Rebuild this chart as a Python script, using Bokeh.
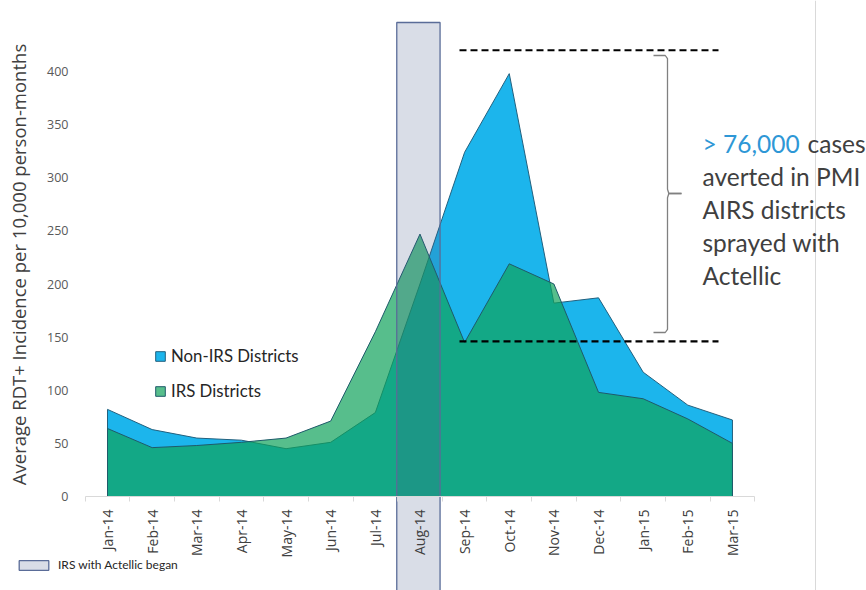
from math import pi
from bokeh.plotting import figure
from bokeh.models import (Range1d, LinearAxis, FixedTicker, Label, Legend,
                          LegendItem, Span)
from bokeh.embed import file_html
from bokeh.resources import INLINE

# ---------------- data ----------------
months = ["Jan-14", "Feb-14", "Mar-14", "Apr-14", "May-14", "Jun-14", "Jul-14",
          "Aug-14", "Sep-14", "Oct-14", "Nov-14", "Dec-14", "Jan-15", "Feb-15", "Mar-15"]
non_irs = [82, 63, 55, 53, 45, 51, 79, 200, 324, 398, 182, 187, 117, 86, 72]
irs = [64, 46, 48, 51, 55, 71, 155, 247, 145, 219, 200, 98, 92, 73, 50]
y_ticks = [0, 50, 100, 150, 200, 250, 300, 350, 400]
spray_month = "Aug-14"
averted_top = 420
averted_bottom = 146
text_lines = ["averted in PMI", "AIRS districts", "sprayed with", "Actellic"]

# ---------------- scales (pixel mapping) ----------------
px0, dx = 107.0, 44.64          # x pixel of first month, pixels per month
py0, dy = 496.0, 1.0625         # y pixel of zero, pixels per unit
W, H = 866, 590

def xd(px):
    return (px - px0) / dx

def yd(py):
    return (py0 - py) / dy

p = figure(width=W, height=H, output_backend="svg", toolbar_location=None,
           x_range=Range1d(xd(0), xd(W)), y_range=Range1d(yd(H), yd(0)),
           x_axis_location=None, y_axis_location=None, min_border=0,
           background_fill_color="white", border_fill_color="white")
p.outline_line_color = None
p.xgrid.visible = False
p.ygrid.visible = False

n = len(months)
idx = list(range(n))
poly_x = idx + [n - 1, 0]

blue = p.patch(poly_x, non_irs + [0, 0], fill_color="#1CB5EC", fill_alpha=1.0,
               line_color="#22607E", line_width=1)
green = p.patch(poly_x, irs + [0, 0], fill_color="#10A25B", fill_alpha=0.7,
                line_color="#1F5A6A", line_width=1)

# spray band
si = months.index(spray_month)
band = p.quad(left=[si - 0.52], right=[si + 0.45], bottom=[yd(H + 20)], top=[yd(22)],
              fill_color="#3F5589", fill_alpha=0.2, line_color="#5A6C98", line_width=1.3)

# slide edge line
p.add_layout(Span(location=xd(815), dimension="height", line_color="#D9D9D9", line_width=1))

# dashed level lines
p.line([xd(459), xd(718)], [averted_top, averted_top], line_color="black",
       line_width=2.2, line_dash="7 4")
p.line([xd(459), xd(718)], [averted_bottom, averted_bottom], line_color="black",
       line_width=2.2, line_dash="7 4")

# brace
bx, hx, tx = xd(667), xd(653), xd(681)
btop, bbot, bmid = yd(55), yd(332), yd(193)
p.line([hx, bx - 0.05, bx, bx, bx + 0.03, tx], [btop, btop, btop - 3, bmid + 4, bmid, bmid],
       line_color="#808080", line_width=1.3)
p.line([tx, bx + 0.03, bx, bx, bx - 0.05, hx], [bmid, bmid, bmid - 4, bbot + 3, bbot, bbot],
       line_color="#808080", line_width=1.3)

# axes
xaxis = LinearAxis(ticker=FixedTicker(ticks=idx, minor_ticks=[i - 0.5 for i in range(n + 1)]),
                   fixed_location=0, bounds=(-0.5, n - 0.5))
xaxis.major_label_overrides = {i: m for i, m in enumerate(months)}
xaxis.major_label_orientation = pi / 2
xaxis.axis_line_color = "#D9D9D9"
xaxis.major_tick_line_color = None
xaxis.minor_tick_line_color = "#D9D9D9"
xaxis.minor_tick_in = 0
xaxis.minor_tick_out = 5
xaxis.major_label_standoff = 7
xaxis.major_label_text_font = "Open Sans"
xaxis.major_label_text_font_size = "14px"
xaxis.major_label_text_color = "#404040"
p.add_layout(xaxis, "below")

yaxis = LinearAxis(ticker=FixedTicker(ticks=y_ticks), fixed_location=xd(80))
yaxis.axis_line_color = None
yaxis.major_tick_line_color = None
yaxis.minor_tick_line_color = None
yaxis.major_label_standoff = 6
yaxis.major_label_text_font = "Open Sans"
yaxis.major_label_text_font_size = "12.5px"
yaxis.major_label_text_color = "#595959"
p.add_layout(yaxis, "left")

p.add_layout(Label(x=18, x_units="screen", y=yd(264), text="Average RDT+ Incidence per 10,000 person-months",
                   angle=pi / 2, text_align="center", text_baseline="middle",
                   text_font="Open Sans", text_font_size="18.5px", text_color="#404040"))

# annotation text
fs = "24.5px"
p.add_layout(Label(x=xd(702), y=yd(143), text="> 76,000", text_font="Lato", text_font_size=fs,
                   text_color="#2E97D6", text_baseline="middle"))
p.add_layout(Label(x=xd(807), y=yd(143), text="cases", text_font="Lato", text_font_size=fs,
                   text_color="#404040", text_baseline="middle"))
for k, t in enumerate(text_lines):
    p.add_layout(Label(x=xd(702), y=yd(176 + 33 * k), text=t, text_font="Lato", text_font_size=fs,
                       text_color="#404040", text_baseline="middle"))

# legends
leg = Legend(items=[LegendItem(label="Non-IRS Districts", renderers=[blue]),
                    LegendItem(label="IRS Districts", renderers=[green])],
             location=(154, H - 347 - 54), orientation="vertical",
             glyph_width=12, glyph_height=12, label_height=20, spacing=14,
             padding=0, margin=0, border_line_color=None, background_fill_alpha=0,
             label_text_font="Lato", label_text_font_size="16.8px", label_text_color="#262626",
             label_standoff=5)
p.add_layout(leg)

leg2 = Legend(items=[LegendItem(label="IRS with Actellic began", renderers=[band])],
              location=(15, H - 572), glyph_width=37, glyph_height=12, label_height=14,
              padding=0, margin=0, border_line_color=None, background_fill_alpha=0,
              label_text_font="Lato", label_text_font_size="12px", label_text_color="#262626",
              label_standoff=6)
p.add_layout(leg2)

open("out.html", "w").write(file_html(p, INLINE))
